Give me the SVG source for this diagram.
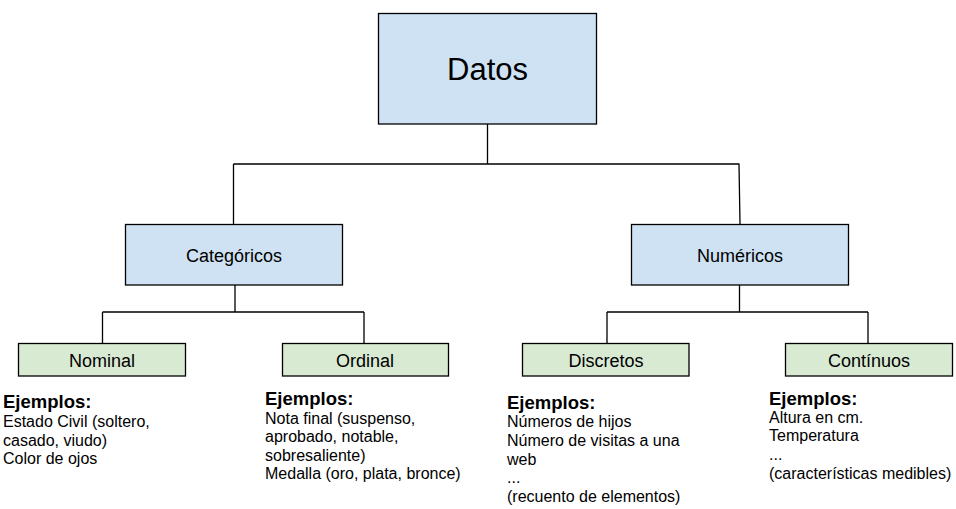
<svg xmlns="http://www.w3.org/2000/svg" width="956" height="509" viewBox="0 0 956 509">
<style>
.blue{fill:#cfe2f3;stroke:#000;stroke-width:1.3}
.green{fill:#d9ead3;stroke:#000;stroke-width:1.3}
.lbl{font-family:"Liberation Sans",Arial,sans-serif;font-size:18px;fill:#000;text-anchor:middle}
.big{font-family:"Liberation Sans",Arial,sans-serif;font-size:31px;fill:#000;text-anchor:middle}
.hd{font-family:"Liberation Sans",Arial,sans-serif;font-size:18.5px;font-weight:bold;fill:#000}
.tx{font-family:"Liberation Sans",Arial,sans-serif;font-size:16px;fill:#000}
.conn{fill:none;stroke:#000;stroke-width:1.3}
</style>
<rect width="956" height="509" fill="#fff"/>
<g id="connectors" class="conn">
<path d="M487.5 124V164M233.5 164H739.5M233.5 164V224M739 164L740 224"/>
<path d="M235 285V312M102.5 312H364M102.5 312V343M364 312V343"/>
<path d="M739.5 285V312M607 312H868M607 312V343M868 312V343"/>
</g>
<g id="datos">
<rect class="blue" x="378.5" y="13.5" width="218" height="110.5"/>
<text class="big" x="487.5" y="80">Datos</text>
</g>
<g id="categoricos">
<rect class="blue" x="125.5" y="224.5" width="217" height="60.5"/>
<text class="lbl" x="234" y="262">Categóricos</text>
</g>
<g id="numericos">
<rect class="blue" x="631.5" y="224.5" width="217" height="60.5"/>
<text class="lbl" x="740" y="262">Numéricos</text>
</g>
<g id="nominal">
<rect class="green" x="18.5" y="343.5" width="167" height="32.5"/>
<text class="lbl" x="102" y="366.5">Nominal</text>
<text class="hd" x="3" y="407.5">Ejemplos:</text>
<text class="tx"><tspan x="3" y="427">Estado Civil (soltero,</tspan><tspan x="3" y="445.5">casado, viudo)</tspan><tspan x="3" y="464">Color de ojos</tspan></text>
</g>
<g id="ordinal">
<rect class="green" x="282.5" y="343.5" width="166" height="32.5"/>
<text class="lbl" x="365" y="366.5">Ordinal</text>
<text class="hd" x="265" y="405">Ejemplos:</text>
<text class="tx"><tspan x="265" y="423.5">Nota final (suspenso,</tspan><tspan x="265" y="442">aprobado, notable,</tspan><tspan x="265" y="460.5">sobresaliente)</tspan><tspan x="265" y="479">Medalla (oro, plata, bronce)</tspan></text>
</g>
<g id="discretos">
<rect class="green" x="522.5" y="343.5" width="166.5" height="32.5"/>
<text class="lbl" x="606" y="366.5">Discretos</text>
<text class="hd" x="507" y="408.5">Ejemplos:</text>
<text class="tx"><tspan x="507" y="427">Números de hijos</tspan><tspan x="507" y="446">Número de visitas a una</tspan><tspan x="507" y="464.5">web</tspan><tspan x="507" y="483">...</tspan><tspan x="507" y="501.5">(recuento de elementos)</tspan></text>
</g>
<g id="continuos">
<rect class="green" x="785.5" y="343.5" width="167" height="32.5"/>
<text class="lbl" x="869" y="366.5">Contínuos</text>
<text class="hd" x="769" y="405">Ejemplos:</text>
<text class="tx"><tspan x="769" y="422.5">Altura en cm.</tspan><tspan x="769" y="441">Temperatura</tspan><tspan x="769" y="460">...</tspan><tspan x="769" y="479">(características medibles)</tspan></text>
</g>
</svg>
